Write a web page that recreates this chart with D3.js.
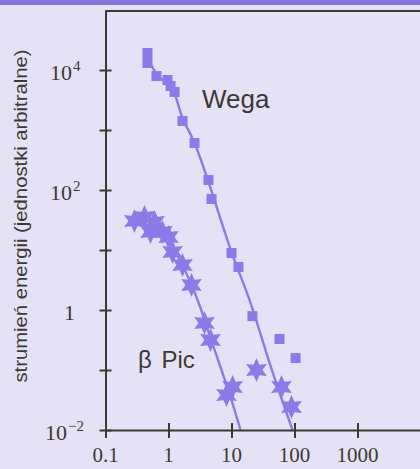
<!DOCTYPE html>
<html>
<head>
<meta charset="utf-8">
<title>Wega i beta Pic</title>
<script src="https://cdn.jsdelivr.net/npm/d3@7"></script>
<style>
  body { margin: 0; background: #e6e2f6; }
  svg { display: block; }
</style>
</head>
<body>
<script>
// Wega - pomiary (kwadraty)
var wegaX = [0.464, 0.464, 0.645, 0.964, 1.08, 1.25, 1.67, 2.59, 4.31, 4.82, 10, 12.9, 21.5, 57.8, 104];
var wegaY = [19200, 13100, 7940, 6810, 5410, 4300, 1413, 607, 147, 70.8, 8.9, 5.2, 0.79, 0.329, 0.158];
// Wega - krzywa
var wegaFitX = [0.481, 0.668, 1.16, 1.67, 2.59, 4.48, 6.94, 10.4, 19.3, 46.4, 93];
var wegaFitY = [14700, 8250, 4640, 1585, 607, 121, 29.3, 8.25, 1.47, 0.0826, 0.01];

// beta Pic - pomiary (gwiazdki)
var picX = [0.288, 0.416, 0.600, 0.518, 0.803, 1.0, 1.16, 1.67, 2.32, 3.73, 4.64, 10.4, 8.33, 24.9, 62.2, 89.6];
var picY = [30.4, 35.5, 29.3, 20, 20, 16.5, 9.26, 5.62, 2.61, 0.607, 0.316, 0.052, 0.0383, 0.1, 0.052, 0.0242];
// beta Pic - krzywa
var picFitX = [0.288, 0.499, 0.865, 1.39, 2.15, 3.10, 4.48, 6.94, 10, 13.9];
var picFitY = [31.6, 24.2, 16.5, 7.94, 3.16, 1.21, 0.383, 0.1, 0.0316, 0.01];

var xTicks = [0.1, 1, 10, 100, 1000];
var xTickLabels = ["0.1", "1", "10", "100", "1000"];
var yTicks = [1e4, 1e3, 1e2, 10, 1, 0.1, 0.01];
var yLabelTicks = [1e4, 1e2, 1, 0.01];
var yLabelBase = ["10", "10", "1", "10"];
var yLabelExp = ["4", "2", "", "\u22122"];

var purple = "#8b7ae8";
var ink = "#3e3832";

var svg = d3.select("body").append("svg")
    .attr("width", 420)
    .attr("height", 469);

svg.append("rect").attr("width", 420).attr("height", 469).attr("fill", "#e6e2f6");
svg.append("rect").attr("width", 420).attr("height", 5).attr("fill", "#8675dc");

var x = d3.scaleLog().domain([0.1, 1e4]).range([105.5, 420.5]);
var y = d3.scaleLog().domain([0.01, 1e5]).range([430, 10]);

// lines
var line = d3.line()
    .x(function(d) { return x(d[0]); })
    .y(function(d) { return y(d[1]); })
    .curve(d3.curveCatmullRom);

[d3.zip(wegaFitX, wegaFitY), d3.zip(picFitX, picFitY)].forEach(function(pts) {
    svg.append("path")
        .datum(pts)
        .attr("d", line)
        .attr("fill", "none")
        .attr("stroke", purple)
        .attr("stroke-width", 2.4);
});

// 6-ramienna gwiazdka
var star6 = {
    draw: function(ctx, size) {
        var R = Math.sqrt(size), r = R * 0.5;
        for (var i = 0; i < 12; i++) {
            var a = i * Math.PI / 6 - Math.PI / 2;
            var rr = i % 2 ? r : R;
            if (i === 0) ctx.moveTo(rr * Math.cos(a), rr * Math.sin(a));
            else ctx.lineTo(rr * Math.cos(a), rr * Math.sin(a));
        }
        ctx.closePath();
    }
};

svg.selectAll(".wega")
    .data(d3.zip(wegaX, wegaY))
    .enter().append("path")
    .attr("class", "wega")
    .attr("transform", function(d) { return "translate(" + x(d[0]) + "," + y(d[1]) + ")"; })
    .attr("d", d3.symbol().type(d3.symbolSquare).size(100))
    .attr("fill", purple);

svg.selectAll(".pic")
    .data(d3.zip(picX, picY))
    .enter().append("path")
    .attr("class", "pic")
    .attr("transform", function(d) { return "translate(" + x(d[0]) + "," + y(d[1]) + ")"; })
    .attr("d", d3.symbol().type(star6).size(144))
    .attr("fill", purple);

// axes
var yAxis = svg.append("g")
    .attr("transform", "translate(105.5,0)")
    .call(d3.axisLeft(y).tickValues(yTicks).tickFormat("").tickSizeOuter(0));
yAxis.selectAll(".tick line").attr("x1", -6).attr("x2", 6);

var xAxis = svg.append("g")
    .attr("transform", "translate(0,430)")
    .call(d3.axisBottom(x).tickValues(xTicks).tickFormat("").tickSizeOuter(0));
xAxis.selectAll(".tick line").attr("y1", -7).attr("y2", 8);

svg.selectAll(".domain").attr("stroke", ink).attr("stroke-width", 2);
svg.selectAll(".tick line").attr("stroke", ink).attr("stroke-width", 2);

svg.append("line")
    .attr("x1", 105.5).attr("x2", 420).attr("y1", 11).attr("y2", 11)
    .attr("stroke", ink).attr("stroke-width", 2);

// tick labels
svg.selectAll(".xl")
    .data(xTicks)
    .enter().append("text")
    .attr("x", function(d) { return x(d); })
    .attr("y", 462)
    .attr("text-anchor", "middle")
    .attr("font-family", "Liberation Serif, Times New Roman, serif")
    .attr("font-size", 21)
    .attr("fill", ink)
    .text(function(d, i) { return xTickLabels[i]; });

var yl = svg.selectAll(".yl")
    .data(yLabelTicks)
    .enter().append("text")
    .attr("y", function(d) { return y(d) + 10; })
    .attr("x", function(d, i) { return yLabelExp[i].length > 1 ? 45 : (yLabelExp[i] ? 50 : 64); })
    .attr("font-family", "Liberation Serif, Times New Roman, serif")
    .attr("font-size", 22)
    .attr("fill", ink);
yl.append("tspan").text(function(d, i) { return yLabelBase[i]; });
yl.append("tspan")
    .attr("dy", -9)
    .attr("dx", 1)
    .attr("font-size", 15)
    .text(function(d, i) { return yLabelExp[i]; });

svg.append("text")
    .attr("transform", "translate(27,216) rotate(-90)")
    .attr("text-anchor", "middle")
    .attr("font-family", "Liberation Sans, Arial, sans-serif")
    .attr("font-size", 19)
    .attr("textLength", 333)
    .attr("lengthAdjust", "spacingAndGlyphs")
    .attr("fill", ink)
    .text("strumień energii (jednostki arbitralne)");

svg.append("text")
    .attr("x", 202).attr("y", 108)
    .attr("font-family", "Liberation Sans, Arial, sans-serif")
    .attr("font-size", 26)
    .attr("fill", ink)
    .text("Wega");

svg.append("text")
    .attr("x", 138).attr("y", 368)
    .attr("font-family", "Liberation Sans, Arial, sans-serif")
    .attr("font-size", 24)
    .attr("fill", ink)
    .attr("word-spacing", 3)
    .text("β Pic");
</script>
</body>
</html>
